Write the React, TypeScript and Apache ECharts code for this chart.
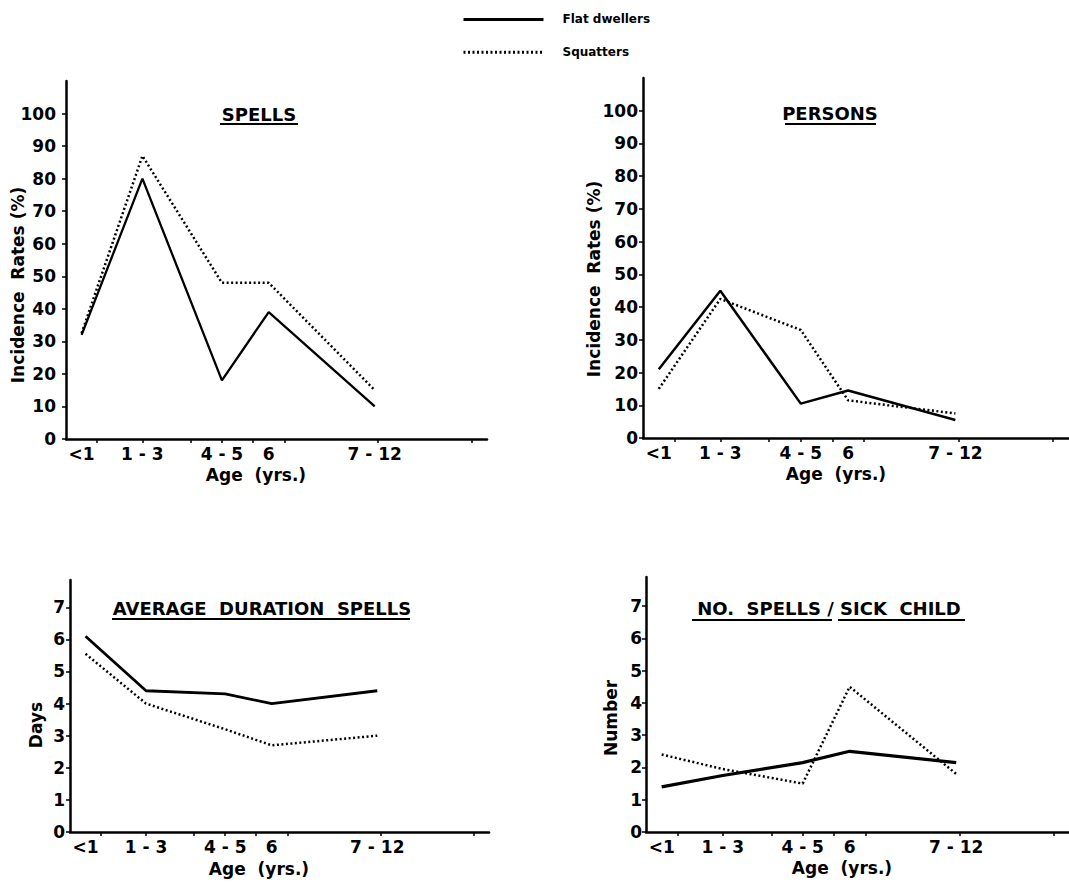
import React, { useEffect, useRef } from 'react';
import * as echarts from 'echarts';

// ---- Data ----
const ageLabels = ['<1', '1 - 3', '4 - 5', '6', '7 - 12'];
const agePositions = [0.5, 2.45, 5, 6.5, 9.9];
const ageTicks = [1, 2.45, 4, 5, 6, 7, 10, 13];

const spellsFlat = [32, 80, 18, 39, 10];
const spellsSquatters = [32.5, 87, 48, 48, 15];
const personsFlat = [21, 45, 10.5, 14.5, 5.5];
const personsSquatters = [15, 42.5, 33, 11.5, 7.5];
const durationFlat = [6.1, 4.4, 4.3, 4.0, 4.4];
const durationSquatters = [5.55, 4.0, 3.2, 2.7, 3.0];
const perChildFlat = [1.4, 1.75, 2.15, 2.5, 2.15];
const perChildSquatters = [2.4, 1.95, 1.5, 4.5, 1.8];

const rateTicks = [0, 10, 20, 30, 40, 50, 60, 70, 80, 90, 100];
const smallTicks = [0, 1, 2, 3, 4, 5, 6, 7];

const seriesNames = ['Flat dwellers', 'Squatters'];

const FONT = '"DejaVu Sans", sans-serif';
const BLACK = '#000';

function xAxisFor(i: number) {
  return {
    type: 'value',
    gridIndex: i,
    min: 0,
    max: 13.5,
    axisLine: { show: true, lineStyle: { color: BLACK, width: 2.5 } },
    axisTick: { show: true, customValues: ageTicks, length: 4, lineStyle: { color: BLACK, width: 1.5 } },
    axisLabel: {
      show: true,
      customValues: agePositions,
      formatter: (v: number) => {
        const k = agePositions.findIndex((p) => Math.abs(p - v) < 1e-6);
        return k >= 0 ? ageLabels[k] : '';
      },
      color: BLACK,
      fontFamily: FONT,
      fontWeight: 'bold',
      fontSize: 17,
      margin: 6,
    },
    splitLine: { show: false },
  };
}

function yAxisFor(i: number, max: number, ticks: number[], margin: number) {
  return {
    type: 'value',
    gridIndex: i,
    min: 0,
    max,
    axisLine: { show: true, lineStyle: { color: BLACK, width: 2.5 } },
    axisTick: { show: true, customValues: ticks, length: 4, lineStyle: { color: BLACK, width: 1.5 } },
    axisLabel: {
      show: true,
      customValues: ticks,
      formatter: (v: number) => (ticks.indexOf(v) >= 0 ? String(v) : ''),
      color: BLACK,
      fontFamily: FONT,
      fontWeight: 'bold',
      fontSize: 17,
      margin,
    },
    splitLine: { show: false },
  };
}

function seriesFor(i: number, flat: number[], squat: number[], width: number) {
  return [
    {
      type: 'line',
      name: seriesNames[0],
      xAxisIndex: i,
      yAxisIndex: i,
      symbol: 'none',
      data: agePositions.map((x, k) => [x, flat[k]]),
      lineStyle: { color: BLACK, width, type: 'solid' },
      itemStyle: { color: BLACK },
    },
    {
      type: 'line',
      name: seriesNames[1],
      xAxisIndex: i,
      yAxisIndex: i,
      symbol: 'none',
      data: agePositions.map((x, k) => [x, squat[k]]),
      lineStyle: { color: BLACK, width: 2.5, type: [2, 2.5] },
      itemStyle: { color: BLACK },
    },
  ];
}

function titleText(text: string, x: number, y: number) {
  return {
    type: 'text',
    x,
    y,
    style: {
      text,
      fill: BLACK,
      font: `bold 18px ${FONT}`,
      align: 'center',
      verticalAlign: 'middle',
    },
  };
}

function underline(x1: number, x2: number, y: number) {
  return {
    type: 'line',
    shape: { x1, y1: y, x2, y2: y },
    style: { stroke: BLACK, lineWidth: 2 },
  };
}

function rotatedName(text: string, x: number, y: number) {
  return {
    type: 'text',
    x,
    y,
    rotation: Math.PI / 2,
    style: {
      text,
      fill: BLACK,
      font: `bold 17px ${FONT}`,
      align: 'center',
      verticalAlign: 'middle',
    },
  };
}

function ageName(x: number, y: number) {
  return {
    type: 'text',
    x,
    y,
    style: {
      text: 'Age  (yrs.)',
      fill: BLACK,
      font: `bold 17px ${FONT}`,
      align: 'center',
      verticalAlign: 'middle',
    },
  };
}

export default function App() {
  const ref = useRef<HTMLDivElement>(null);

  useEffect(() => {
    if (!ref.current) return;
    const chart = echarts.init(ref.current, undefined, { renderer: 'svg' });
    const option = {
      animation: false,
      backgroundColor: '#fff',
      grid: [
        { left: 66, top: 81, width: 421, height: 358 },
        { left: 643, top: 78, width: 426, height: 360 },
        { left: 70, top: 580, width: 419, height: 252 },
        { left: 646, top: 577, width: 423, height: 255 },
      ],
      xAxis: [xAxisFor(0), xAxisFor(1), xAxisFor(2), xAxisFor(3)],
      yAxis: [
        yAxisFor(0, 110, rateTicks, 10),
        yAxisFor(1, 110, rateTicks, 5),
        yAxisFor(2, 7.85, smallTicks, 5),
        yAxisFor(3, 7.9, smallTicks, 4),
      ],
      legend: {
        orient: 'vertical',
        left: 457,
        top: 8,
        itemWidth: 80,
        itemHeight: 16,
        itemGap: 20,
        selectedMode: false,
        data: seriesNames,
        itemStyle: { opacity: 0 },
        lineStyle: { width: 3 },
        textStyle: {
          color: BLACK,
          fontFamily: FONT,
          fontWeight: 'bold',
          fontSize: 12,
          padding: [0, 0, 0, 14],
        },
      },
      series: [
        ...seriesFor(0, spellsFlat, spellsSquatters, 2.3),
        ...seriesFor(1, personsFlat, personsSquatters, 2.5),
        ...seriesFor(2, durationFlat, durationSquatters, 2.8),
        ...seriesFor(3, perChildFlat, perChildSquatters, 3.2),
      ],
      graphic: [
        titleText('SPELLS', 259, 114),
        underline(220, 298, 124),
        titleText('PERSONS', 830, 113),
        underline(785, 876, 124),
        titleText('AVERAGE  DURATION  SPELLS', 262, 608),
        underline(112, 410, 619),
        titleText('NO.  SPELLS / SICK  CHILD', 829, 608),
        underline(692, 832, 620),
        underline(838, 965, 620),
        rotatedName('Incidence  Rates (%)', 18, 285),
        rotatedName('Incidence  Rates (%)', 594, 279),
        rotatedName('Days', 36, 725),
        rotatedName('Number', 611, 718),
        ageName(256, 475),
        ageName(836, 474),
        ageName(259, 869),
        ageName(842, 868),
      ],
    };
    chart.setOption(option as any);
    return () => chart.dispose();
  }, []);

  return (
    <div
      ref={ref}
      style={{ position: 'fixed', left: 0, top: 0, width: 1069, height: 883, background: '#fff' }}
    />
  );
}
